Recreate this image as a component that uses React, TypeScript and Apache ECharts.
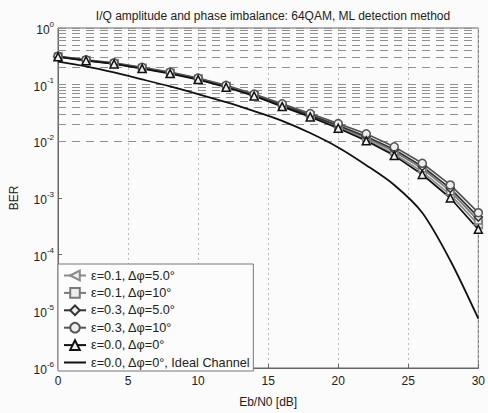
import React, { useEffect, useRef } from "react";
import * as echarts from "echarts";

const ebN0 = [0, 2, 4, 6, 8, 10, 12, 14, 16, 18, 20, 22, 24, 26, 28, 30];

const berE01P5 = [0.31, 0.266, 0.234, 0.194, 0.159, 0.125, 0.092, 0.064, 0.042, 0.0278, 0.0176, 0.0107, 0.0060, 0.0029, 0.00115, 0.00034];
const berE01P10 = [0.312, 0.268, 0.236, 0.196, 0.161, 0.127, 0.093, 0.065, 0.043, 0.0285, 0.0184, 0.0115, 0.0066, 0.0033, 0.00132, 0.00040];
const berE03P5 = [0.314, 0.27, 0.238, 0.198, 0.163, 0.128, 0.094, 0.066, 0.044, 0.029, 0.0190, 0.0122, 0.0072, 0.0036, 0.00148, 0.00046];
const berE03P10 = [0.318, 0.274, 0.242, 0.202, 0.167, 0.131, 0.097, 0.068, 0.046, 0.031, 0.0205, 0.0136, 0.0080, 0.0041, 0.00170, 0.00055];
const berE0P0 = [0.31, 0.265, 0.232, 0.192, 0.157, 0.123, 0.090, 0.063, 0.041, 0.027, 0.0170, 0.0102, 0.0056, 0.0026, 0.00100, 0.00028];
const berIdeal = [0.255, 0.21, 0.164, 0.124, 0.093, 0.068, 0.049, 0.034, 0.023, 0.014, 0.0078, 0.0038, 0.0017, 0.00055, 0.000079, 0.0000074];

const seriesNames = [
  "ε=0.1, Δφ=5.0°",
  "ε=0.1, Δφ=10°",
  "ε=0.3, Δφ=5.0°",
  "ε=0.3, Δφ=10°",
  "ε=0.0, Δφ=0°",
  "ε=0.0, Δφ=0°, Ideal Channel",
];

const titleText = "I/Q amplitude and phase imbalance: 64QAM, ML detection method";
const xTicks = [0, 5, 10, 15, 20, 25, 30];
const decades = [-6, -5, -4, -3, -2, -1, 0];
const minorMultipliers = [2, 3, 4, 5, 6, 7, 8, 9];

export default function App() {
  const ref = useRef<HTMLDivElement>(null);
  useEffect(() => {
    if (!ref.current) return;
    const chart = echarts.init(ref.current, null, { renderer: "svg" });
    const font = "Liberation Sans";
    const mk = (arr: number[]) => ebN0.map((x, i) => [x, arr[i]]);

    const minorLines: any[] = [];
    decades.slice(0, -1).forEach((d) => {
      minorMultipliers.forEach((m) => minorLines.push({ yAxis: m * Math.pow(10, d) }));
    });
    decades.forEach((d) => minorLines.push({ yAxis: Math.pow(10, d) }));

    const curve = (
      name: string,
      data: number[],
      symbol: string,
      color: string,
      rotate = 0,
      size = 8
    ) => ({
      name,
      type: "line",
      data: mk(data),
      symbol,
      symbolSize: size,
      symbolRotate: rotate,
      showAllSymbol: true,
      z: 5,
      lineStyle: { color, width: 1.7 },
      itemStyle: { color: "#eeeeee", borderColor: color, borderWidth: 1.5 },
    });

    chart.setOption({
      animation: false,
      backgroundColor: "#fbfbfb",
      textStyle: { fontFamily: font },
      title: {
        text: titleText,
        left: 268,
        textAlign: "center",
        top: 5,
        textStyle: { fontFamily: font, fontSize: 12, fontWeight: "normal", color: "#222" },
      },
      grid: {
        left: 58,
        right: 9,
        top: 28,
        bottom: 41,
        show: true,
        borderColor: "#666",
        borderWidth: 1,
        backgroundColor: "transparent",
      },
      legend: {
        orient: "vertical",
        left: 58,
        top: 264,
        data: seriesNames.map((n, i) =>
          i === 5 ? { name: n, itemStyle: { color: "transparent", borderColor: "transparent", borderWidth: 0 } } : { name: n }
        ),
        itemWidth: 22,
        itemHeight: 12,
        itemGap: 4.4,
        padding: [5, 3, 2, 5],
        backgroundColor: "#fcfcfc",
        borderColor: "#777",
        borderWidth: 1,
        borderRadius: 0,
        textStyle: { fontFamily: font, fontSize: 12.7, lineHeight: 12, color: "#222" },
      },
      xAxis: {
        type: "value",
        min: 0,
        max: 30,
        interval: 5,
        name: "Eb/N0 [dB]",
        nameLocation: "middle",
        nameGap: 28,
        nameTextStyle: { fontFamily: font, fontSize: 12, color: "#222" },
        axisLine: { show: true, lineStyle: { color: "#666" } },
        axisTick: { inside: true, length: 4, lineStyle: { color: "#666" } },
        axisLabel: {
          fontFamily: font,
          fontSize: 12,
          color: "#222",
          margin: 7,
          formatter: (v: number) => (xTicks.includes(v) ? String(v) : ""),
        },
        splitLine: { show: true, lineStyle: { color: "#bbb", type: [2, 3], width: 1 } },
      },
      yAxis: {
        type: "log",
        logBase: 10,
        min: 1e-6,
        max: 1,
        name: "BER",
        nameLocation: "middle",
        nameGap: 38,
        nameTextStyle: { fontFamily: font, fontSize: 12, color: "#222" },
        axisLine: { show: true, lineStyle: { color: "#666" } },
        axisTick: { inside: true, length: 4, lineStyle: { color: "#666" } },
        splitLine: { show: false },
        axisLabel: {
          fontFamily: font,
          margin: 4,
          color: "#222",
          formatter: (v: number) => {
            const e = Math.round(Math.log10(v));
            return "{b|10}{s|" + e + "}";
          },
          rich: {
            b: { fontSize: 12, fontFamily: font, color: "#222", lineHeight: 16, verticalAlign: "bottom" },
            s: { fontSize: 8, fontFamily: font, color: "#222", lineHeight: 16, verticalAlign: "top", padding: [0, 0, 6, 0] },
          },
        },
      },
      series: [
        {
          name: "grid",
          type: "line",
          data: [],
          z: 1,
          silent: true,
          markLine: {
            silent: true,
            symbol: "none",
            label: { show: false },
            lineStyle: { color: "#8f8f8f", type: [8, 6], width: 1 },
            data: minorLines,
          },
        },
        curve(seriesNames[0], berE01P5, "triangle", "#8a8a8a", 90, 8),
        curve(seriesNames[1], berE01P10, "rect", "#7a7a7a", 0, 7),
        curve(seriesNames[2], berE03P5, "diamond", "#333", 0, 8),
        curve(seriesNames[3], berE03P10, "circle", "#555", 0, 8),
        curve(seriesNames[4], berE0P0, "triangle", "#111", 0, 8),
        {
          name: seriesNames[5],
          type: "line",
          data: mk(berIdeal),
          symbol: "none",
          smooth: 0.3,
          z: 6,
          lineStyle: { color: "#111", width: 1.8 },
          itemStyle: { color: "#111" },
        },
      ],
    });
    return () => chart.dispose();
  }, []);
  return <div ref={ref} style={{ width: 488, height: 413, position: "absolute", left: 0, top: 0 }} />;
}
